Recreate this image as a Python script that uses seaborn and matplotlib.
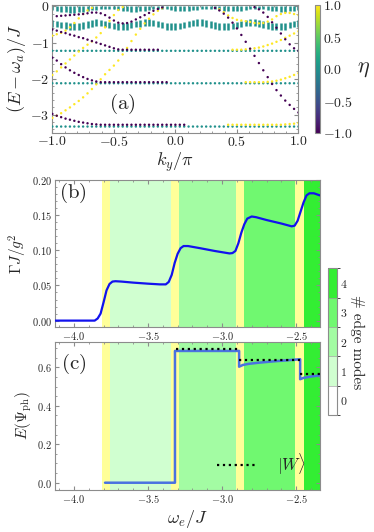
import matplotlib
matplotlib.use('Agg')
import matplotlib.pyplot as plt
import matplotlib.cm as cm
from matplotlib.colors import ListedColormap, BoundaryNorm, Normalize
import seaborn as sns
import numpy as np
import pandas as pd

sns.set_style('ticks')
plt.rcParams['font.family'] = 'serif'
plt.rcParams['font.serif'] = ['cmr10']
plt.rcParams['mathtext.fontset'] = 'cm'
plt.rcParams['axes.formatter.use_mathtext'] = True

# ---------------- panel (a): edge spectrum ----------------
n_k = 57
ky = np.linspace(-1, 1, n_k)          # momentum grid of the strip spectrum

# flat bulk bands (teal, eta ~ 0)
flat_E = [-1.23, -2.13, -3.33]

# upper bulk band drawn as short vertical bars at every k
rowA_top = 0.02
rowA_bot = [-0.10, -0.13, -0.15, -0.16, -0.17, -0.17, -0.16,
            -0.15, -0.13, -0.11, -0.09, -0.08, -0.07, -0.07,
            -0.08, -0.10, -0.12, -0.14, -0.15, -0.15, -0.14,
            -0.12, -0.10, -0.08, -0.07, -0.07, -0.08, -0.10,
            -0.12, -0.13, -0.14, -0.13, -0.11, -0.09, -0.08,
            -0.07, -0.07, -0.08, -0.10, -0.12, -0.13, -0.14,
            -0.14, -0.12, -0.10, -0.08, -0.07, -0.07, -0.08,
            -0.10, -0.12, -0.14, -0.15, -0.15, -0.14, -0.12, -0.10]
rowB_mid = [-0.47, -0.49, -0.51, -0.53, -0.55, -0.56, -0.55, -0.53, -0.50, -0.47,
            -0.45, -0.46, -0.48, -0.51, -0.54, -0.56, -0.56, -0.55, -0.52, -0.49,
            -0.47, -0.45, -0.45, -0.46, -0.49, -0.52, -0.55, -0.56, -0.56, -0.54,
            -0.51, -0.48, -0.46, -0.45, -0.45, -0.47, -0.50, -0.53, -0.55, -0.56,
            -0.56, -0.54, -0.51, -0.48, -0.46, -0.45, -0.45, -0.47, -0.50, -0.53,
            -0.55, -0.56, -0.56, -0.55, -0.52, -0.49, -0.47]
rowB_half = 0.09

# edge branches: energies on consecutive k points starting at index branch_start
yel_a = [-3.09, -3.03, -2.96, -2.88, -2.80, -2.71, -2.62, -2.52, -2.41, -2.29,
         -2.16, -2.02, -1.88, -1.76, -1.64, -1.50, -1.33, -1.15, -0.96, -0.78,
         -0.62, -0.47, -0.34, -0.22, -0.12, -0.05]
yel_b = [-1.90, -1.80, -1.69, -1.58, -1.47, -1.36, -1.25, -1.15, -1.06, -0.97,
         -0.86, -0.74, -0.58, -0.40, -0.24, -0.10, -0.02]
yel_c = [-0.81, -0.77, -0.73, -0.67, -0.58, -0.46, -0.33, -0.21, -0.11, -0.04]
yel_d = [-0.08, -0.16, -0.25, -0.32, -0.37, -0.39, -0.41, -0.43, -0.46, -0.47,
         -0.46, -0.42, -0.36, -0.27, -0.21, -0.18, -0.18, -0.21, -0.24]
yel_e = [-1.20, -1.20, -1.20, -1.19, -1.18, -1.16, -1.14, -1.11, -1.07, -1.03,
         -0.98, -0.93, -0.87, -0.81, -0.75, -0.69]
yel_f = [-2.10, -2.10, -2.10, -2.10, -2.10, -2.09, -2.08, -2.06, -2.03, -1.99,
         -1.95, -1.90, -1.85]
yel_g = [-3.28, -3.28, -3.28, -3.28, -3.28, -3.28, -3.28, -3.28, -3.28, -3.28,
         -3.28, -3.28, -3.28, -3.27, -3.26, -3.25, -3.23]
pur_a = [-0.64, -0.67, -0.71, -0.74, -0.78, -0.81, -0.85, -0.88, -0.92, -0.96,
         -1.00, -1.04, -1.08, -1.12, -1.16, -1.19, -1.20, -1.20, -1.20, -1.20,
         -1.20, -1.20, -1.20, -1.20, -1.20]
pur_b = [-1.42, -1.50, -1.60, -1.69, -1.77, -1.84, -1.90, -1.96, -2.01, -2.05,
         -2.08, -2.10, -2.10, -2.10, -2.10, -2.10, -2.10, -2.10, -2.10, -2.10,
         -2.10, -2.10, -2.10, -2.10, -2.10, -2.10, -2.10]
pur_c = [-2.98, -3.03, -3.07, -3.11, -3.14, -3.17, -3.20, -3.22, -3.24, -3.26,
         -3.27, -3.28, -3.28, -3.28, -3.28, -3.28, -3.28, -3.28, -3.28, -3.28,
         -3.28, -3.28, -3.28, -3.28, -3.28, -3.28, -3.28, -3.28, -3.28, -3.28, -3.28]
pur_d = [-0.27, -0.26, -0.25, -0.24, -0.23, -0.22, -0.21, -0.19, -0.17, -0.17,
         -0.19, -0.24, -0.31, -0.39, -0.45, -0.47, -0.46, -0.42, -0.36, -0.30,
         -0.24, -0.18, -0.12, -0.07, -0.03]
pur_e = [-0.04, -0.11, -0.20, -0.31, -0.45, -0.61, -0.79, -0.98, -1.17, -1.37,
         -1.57, -1.77, -1.96, -2.15, -2.32, -2.47, -2.61, -2.73, -2.84, -2.94]
pur_f = [-0.02, -0.08, -0.17, -0.29, -0.44, -0.59, -0.75, -0.91, -1.05, -1.16, -1.23]

branch_E = [yel_a, yel_b, yel_c, yel_d, yel_e, yel_f, yel_g,
            pur_a, pur_b, pur_c, pur_d, pur_e, pur_f]
branch_start = [0, 0, 0, 38, 41, 44, 40, 0, 0, 0, 1, 37, 46]
branch_eta = [1, 1, 1, 1, 1, 1, 1, -1, -1, -1, -1, -1, -1]

# ---------------- panels (b), (c) ----------------
# frequency windows: -1 = transition window (yellow), else number of edge modes
reg_start = [-3.813, -3.757, -3.345, -3.291, -2.908, -2.854, -2.505, -2.450]
reg_end = [-3.757, -3.345, -3.291, -2.908, -2.854, -2.505, -2.450, -2.30]
reg_modes = [-1, 1, -1, 2, -1, 3, -1, 4]

omega_b = [-4.13, -4.0, -3.9, -3.86, -3.84, -3.82, -3.80, -3.78, -3.76, -3.74, -3.72,
           -3.68, -3.6, -3.5, -3.42, -3.38, -3.36, -3.34, -3.32, -3.30, -3.28, -3.26,
           -3.23, -3.15, -3.05, -2.95, -2.93, -2.91, -2.89, -2.87, -2.85, -2.83, -2.80,
           -2.77, -2.7, -2.6, -2.53, -2.51, -2.49, -2.47, -2.45, -2.43, -2.41, -2.38, -2.34]
gamma_b = [0.0, 0.0, 0.0, 0.0, 0.003, 0.010, 0.026, 0.043, 0.052, 0.0555, 0.056,
           0.0555, 0.054, 0.0525, 0.0515, 0.0515, 0.055, 0.065, 0.082, 0.095, 0.103, 0.106,
           0.106, 0.103, 0.099, 0.0955, 0.096, 0.099, 0.110, 0.125, 0.137, 0.145, 0.148,
           0.147, 0.143, 0.138, 0.134, 0.135, 0.142, 0.155, 0.168, 0.178, 0.181, 0.181, 0.178]

omega_c = [-3.79, -3.318, -3.318, -2.885, -2.885, -2.86, -2.82, -2.75, -2.65, -2.55,
           -2.473, -2.473, -2.45, -2.40, -2.34]
ent_c = [0.0, 0.0, 0.685, 0.685, 0.603, 0.612, 0.618, 0.624, 0.631, 0.637,
         0.642, 0.538, 0.545, 0.552, 0.558]
w_start = [-3.313, -2.885, -2.473]
w_end = [-2.885, -2.473, -2.34]
w_val = [0.693, 0.636, 0.565]

mode_colors = ['#ffffff', '#d0ffd0', '#a3fca3', '#70f870', '#33ee33']
cross_color = '#ffff99'
frame_gray = '#8c8c8c'

# ---------------- figure ----------------
fig = plt.figure(figsize=(3.74, 5.32), dpi=100)
ax_a = fig.add_axes([0.140, 0.7506, 0.658, 0.240])
cax_a = fig.add_axes([0.842, 0.750, 0.0134, 0.240])
ax_b = fig.add_axes([0.147, 0.3848, 0.709, 0.277])
ax_c = fig.add_axes([0.147, 0.0789, 0.709, 0.2788])
cax_b = fig.add_axes([0.878, 0.2199, 0.024, 0.2757])

# (a)
bar_col = plt.cm.viridis(0.5)
mid = np.array(rowB_mid)
ax_a.vlines(ky, rowA_top, rowA_bot, color=bar_col, lw=1.8, zorder=2)
ax_a.vlines(ky, mid + rowB_half, mid - rowB_half, color=bar_col, lw=1.8, zorder=2)

rows = []
for e in flat_E:
    for k in ky:
        rows.append((k, e, 0.0))
for es, i0, eta in zip(branch_E, branch_start, branch_eta):
    for j, e in enumerate(es):
        rows.append((ky[i0 + j], e, eta))
spec = pd.DataFrame(rows, columns=['k', 'E', 'eta'])
sns.scatterplot(data=spec, x='k', y='E', hue='eta', palette='viridis', hue_norm=(-1, 1),
                s=3, linewidth=0, legend=False, ax=ax_a, zorder=3)
ax_a.set_xlim(-1, 1)
ax_a.set_ylim(-3.5, 0.04)
ax_a.set_xticks([-1, -0.5, 0, 0.5, 1])
ax_a.set_yticks([0, -1, -2, -3])
ax_a.set_xlabel(r'$k_y/\pi$', fontsize=13, labelpad=1)
ax_a.set_ylabel(r'$(E-\omega_a)/J$', fontsize=13, labelpad=2)
ax_a.text(0.283, 0.225, r'$\mathrm{(a)}$', transform=ax_a.transAxes, fontsize=15,
          ha='center', va='center')

sm = cm.ScalarMappable(norm=Normalize(-1, 1), cmap='viridis')
cb_a = fig.colorbar(sm, cax=cax_a, ticks=[-1, -0.5, 0, 0.5, 1])
cb_a.ax.tick_params(labelsize=10, length=0, pad=2)
cb_a.outline.set_edgecolor(frame_gray)
cb_a.set_label(r'$\eta$', fontsize=16, rotation=0, labelpad=8, va='center')

# (b) and (c) background windows
for ax in (ax_b, ax_c):
    for x0, x1, m in zip(reg_start, reg_end, reg_modes):
        col = cross_color if m < 0 else mode_colors[m]
        ax.axvspan(x0, x1, color=col, lw=0, zorder=0)
    ax.set_xlim(-4.128, -2.338)
    ax.set_xticks([-4.0, -3.5, -3.0, -2.5])

sns.lineplot(x=omega_b, y=gamma_b, color='#1212ee', lw=1.6, sort=False, estimator=None,
             ax=ax_b, zorder=3)
ax_b.set_ylim(-0.0095, 0.20)
ax_b.set_yticks([0, 0.05, 0.10, 0.15, 0.20])
ax_b.set_ylabel(r'$\Gamma J/g^2$', fontsize=11, labelpad=2)
ax_b.text(0.068, 0.912, r'$\mathrm{(b)}$', transform=ax_b.transAxes, fontsize=15,
          ha='center', va='center')

sns.lineplot(x=omega_c, y=ent_c, color='#4a72e0', lw=1.8, sort=False, estimator=None,
             ax=ax_c, zorder=3)
ax_c.hlines(w_val, w_start, w_end, colors='black', lw=1.6, linestyles=':', zorder=4,
            label=r'$|W\rangle$')
ax_c.set_ylim(-0.038, 0.733)
ax_c.set_yticks([0, 0.2, 0.4, 0.6])
ax_c.set_xlabel(r'$\omega_e/J$', fontsize=13, labelpad=2)
ax_c.set_ylabel(r'$E(\Psi_{\rm ph})$', fontsize=11, labelpad=2)
ax_c.text(0.072, 0.85, r'$\mathrm{(c)}$', transform=ax_c.transAxes, fontsize=15,
          ha='center', va='center')
ax_c.legend(loc='center left', bbox_to_anchor=(0.611, 0.175), frameon=False, fontsize=12,
            handlelength=2.4, handletextpad=1.2, borderpad=0, borderaxespad=0)

# axis styling
for ax in (ax_a, ax_b, ax_c):
    for sp in ax.spines.values():
        sp.set_visible(True)
        sp.set_color(frame_gray)
    ax.minorticks_on()
    ax.tick_params(which='both', direction='in', top=True, right=True, color=frame_gray)
    ax.tick_params(which='major', length=3)
    ax.tick_params(which='minor', length=1.5)
ax_a.tick_params(labelsize=10, pad=2)
ax_b.tick_params(labelsize=7.5, pad=2)
ax_c.tick_params(labelsize=7.5, pad=2)
ax_b.set_xlabel('')

# edge-mode colorbar
cmap_m = ListedColormap(mode_colors)
norm_m = BoundaryNorm(np.arange(-0.5, 5.5, 1), cmap_m.N)
cb_b = fig.colorbar(cm.ScalarMappable(norm=norm_m, cmap=cmap_m), cax=cax_b,
                    ticks=[0, 1, 2, 3, 4], drawedges=True)
cb_b.ax.tick_params(labelsize=8.5, length=0, pad=2)
cb_b.outline.set_edgecolor(frame_gray)
cb_b.dividers.set_color(frame_gray)
cb_b.set_label('# edge modes', fontsize=11, rotation=270, labelpad=12)

fig.savefig('out.png', dpi=100)
